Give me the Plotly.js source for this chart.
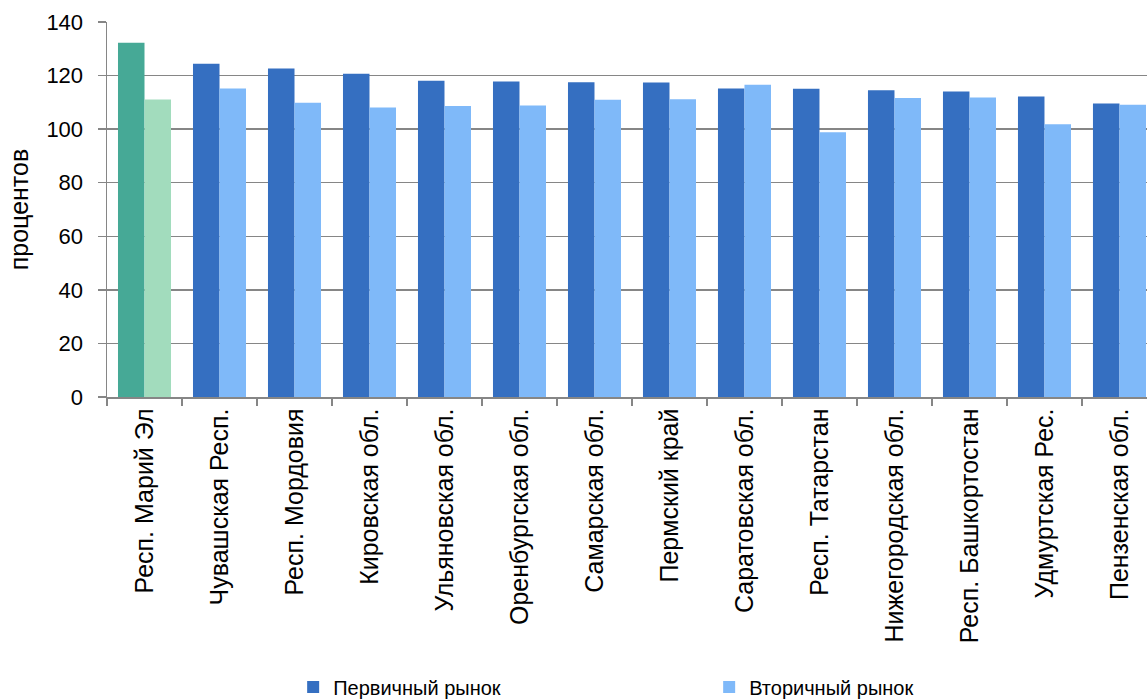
<!DOCTYPE html>
<html>
<head>
<meta charset="utf-8">
<script src="https://cdn.plot.ly/plotly-3.0.1.min.js"></script>
<style>html,body{margin:0;padding:0;background:#fff;}#chart{width:1147px;height:699px;}</style>
</head>
<body>
<div id="chart"></div>
<script>
const categories = ["Респ. Марий Эл","Чувашская Респ.","Респ. Мордовия","Кировская обл.","Ульяновская обл.","Оренбургская обл.","Самарская обл.","Пермский край","Саратовская обл.","Респ. Татарстан","Нижегородская обл.","Респ. Башкортостан","Удмуртская Рес.","Пензенская обл."];
const primaryMarket = [132.3,124.4,122.6,120.7,118.1,117.8,117.5,117.4,115.2,115.1,114.5,114.1,112.2,109.6];
const secondaryMarket = [111.1,115.2,109.9,108.1,108.6,108.8,111.0,111.2,116.6,98.8,111.6,111.8,101.8,109.1];
const yTicks = [0,20,40,60,80,100,120,140];
const seriesNames = ["Первичный рынок","Вторичный рынок"];

const primaryBlue = "#356FC1", secondaryBlue = "#7FB9F9";
const primaryColors = categories.map((c,i)=> i===0 ? "#46A996" : primaryBlue);
const secondaryColors = categories.map((c,i)=> i===0 ? "#A2DCBD" : secondaryBlue);

const data = [
  {type:"bar", name:seriesNames[0], x:categories, y:primaryMarket, offsetgroup:"p",
   marker:{color:primaryColors, line:{width:0}}, showlegend:false},
  {type:"bar", name:seriesNames[1], x:categories, y:secondaryMarket, offsetgroup:"s",
   marker:{color:secondaryColors, line:{width:0}}, showlegend:false},
  {type:"bar", name:seriesNames[0], x:[categories[0]], y:[null], offsetgroup:"p",
   marker:{color:primaryBlue}, showlegend:true},
  {type:"bar", name:seriesNames[1], x:[categories[0]], y:[null], offsetgroup:"s",
   marker:{color:secondaryBlue}, showlegend:true}
];

const layout = {
  width:1147, height:699,
  margin:{l:107, r:0, t:22, b:302, pad:0},
  paper_bgcolor:"#fff", plot_bgcolor:"#fff",
  font:{family:"Liberation Sans, Arial, sans-serif", size:22, color:"#000"},
  barmode:"group", bargap:0.293, bargroupgap:0,
  showlegend:true,
  legend:{orientation:"h", xref:"paper", x:0.179, xanchor:"left",
          yref:"container", y:0.0172, yanchor:"middle",
          font:{family:"Liberation Sans, Arial, sans-serif", size:20, color:"#000"},
          entrywidth:371, entrywidthmode:"pixels",
          traceorder:"normal", bgcolor:"rgba(0,0,0,0)"},
  xaxis:{type:"category", range:[-0.5, 13.367], tickson:"boundaries", automargin:false,
         ticks:"outside", ticklen:7, tickcolor:"#868686", tickwidth:1.5,
         showline:true, linecolor:"#868686", linewidth:1.5,
         showgrid:false, tickangle:-90, tickfont:{size:25}, fixedrange:true},
  yaxis:{range:[0,140], tickvals:yTicks, automargin:true,
         ticks:"outside", ticklen:8, tickcolor:"#868686", tickwidth:1.5,
         showline:true, linecolor:"#868686", linewidth:1.5,
         showgrid:true, gridcolor:"#868686", gridwidth:1.5, zeroline:false,
         tickfont:{size:22}, ticklabelstandoff:10,
         title:{text:"процентов", font:{size:25}, standoff:10}}
};

Plotly.newPlot("chart", data, layout, {displayModeBar:false, staticPlot:true});
</script>
</body>
</html>
